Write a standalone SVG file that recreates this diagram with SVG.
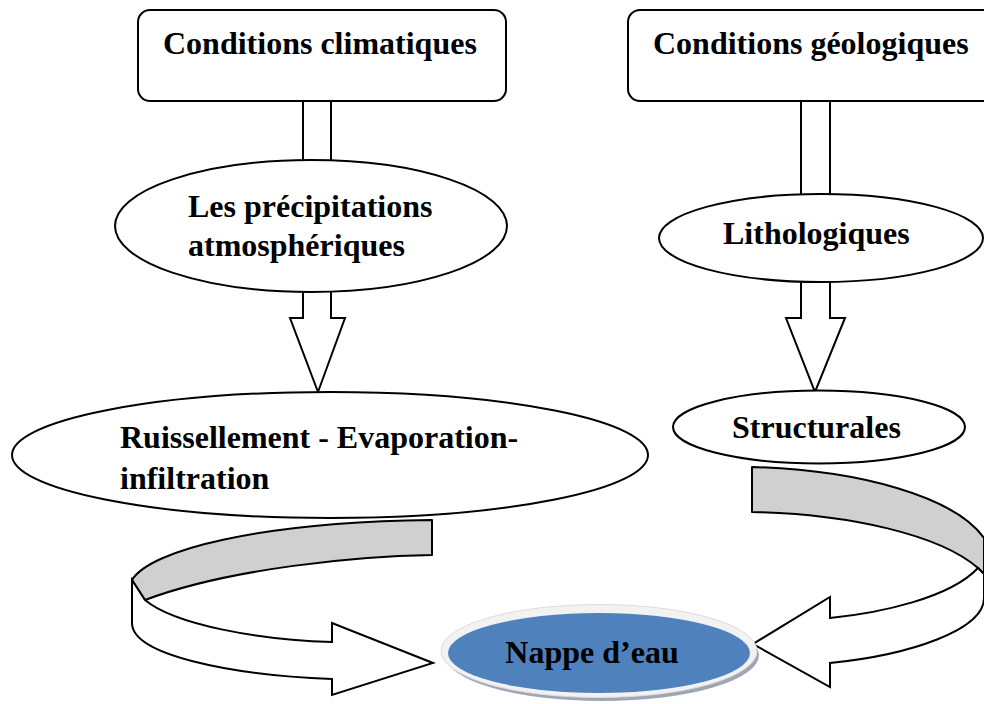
<svg xmlns="http://www.w3.org/2000/svg" width="984" height="704" viewBox="0 0 984 704">
<style>
.shape{fill:#fff;stroke:#000;stroke-width:2}
.band{fill:#d0d0d0;stroke:#000;stroke-width:2;stroke-linejoin:round}
.front{fill:#fff;stroke:#000;stroke-width:2;stroke-linejoin:miter}
.t{font-family:"Liberation Serif","Times New Roman",serif;font-weight:bold;font-size:32px;fill:#000}
</style>
<rect width="984" height="704" fill="#fff"/>
<g id="connectors">
  <rect class="shape" x="303" y="95" width="28" height="75"/>
  <path class="shape" d="M303,285 L303,318 L290,318 L318,392 L345,318 L331,318 L331,285 Z"/>
  <rect class="shape" x="801" y="95" width="29" height="110"/>
  <path class="shape" d="M801,275 L801,318 L786,318 L815,392 L845,318 L830,318 L830,275 Z"/>
  <g id="curve-left">
    <path class="band" d="M432,520 L432,555 C360,556 230,568 145,600 L132,580 C150,550 260,522 432,520 Z"/>
    <path class="front" d="M132,580 L145,600 C175,625 260,640 332,642 L332,623 L433,663 L332,695 L332,679 C230,675 132,655 132,623 Z"/>
  </g>
  <g id="curve-right">
    <path class="band" d="M752,467 L752,512 C850,514 940,535 978,568 L984,574 L984,538 C955,497 860,470 752,467 Z"/>
    <path class="front" d="M978,568 C950,598 880,613 830,618 L830,597 L753,644 L830,687 L830,663 C910,655 984,630 984,598 L984,574 Z"/>
  </g>
</g>
<g id="n-climat">
  <rect class="shape" x="138" y="10" width="368" height="91" rx="12"/>
  <text class="t" x="163" y="54">Conditions climatiques</text>
</g>
<g id="n-geol">
  <rect class="shape" x="628" y="10" width="380" height="91" rx="12"/>
  <text class="t" x="653" y="54">Conditions géologiques</text>
</g>
<g id="n-precip">
  <ellipse class="shape" cx="311" cy="226" rx="196" ry="66"/>
  <text class="t" x="188" y="217">Les précipitations</text>
  <text class="t" x="188" y="256">atmosphériques</text>
</g>
<g id="n-litho">
  <ellipse class="shape" cx="821" cy="238" rx="162" ry="44"/>
  <text class="t" x="723" y="244">Lithologiques</text>
</g>
<g id="n-ruiss">
  <ellipse class="shape" cx="330" cy="455" rx="318" ry="63"/>
  <text class="t" x="120" y="448">Ruissellement - Evaporation-</text>
  <text class="t" x="120" y="489">infiltration</text>
</g>
<g id="n-struct">
  <ellipse class="shape" cx="819" cy="427" rx="146" ry="36.5"/>
  <text class="t" x="732" y="438">Structurales</text>
</g>
<g id="n-nappe">
  <ellipse cx="602" cy="655" rx="157" ry="46" fill="#9ea6b4"/>
  <ellipse cx="599" cy="651" rx="158" ry="46.5" fill="#f2f2f2" stroke="#dcdcdc" stroke-width="1"/>
  <ellipse cx="599" cy="653" rx="151" ry="40" fill="#4f81bd"/>
  <text class="t" x="592" y="663" text-anchor="middle">Nappe d’eau</text>
</g>
</svg>
